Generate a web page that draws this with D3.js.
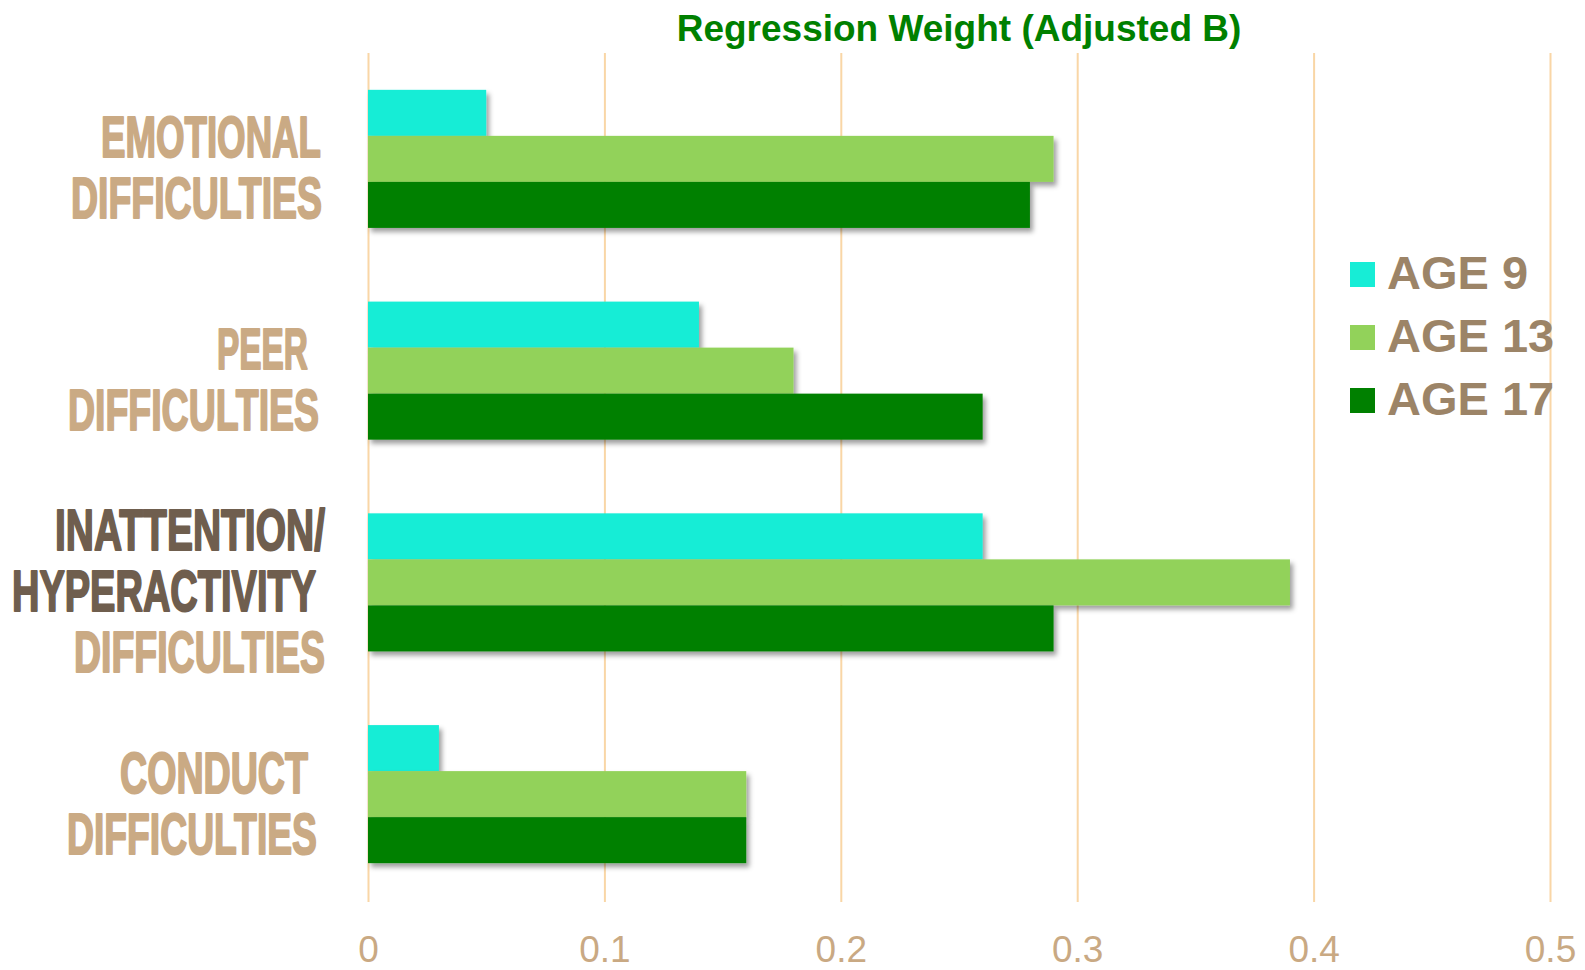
<!DOCTYPE html>
<html>
<head>
<meta charset="utf-8">
<script src="https://cdn.jsdelivr.net/npm/d3@7"></script>
<style>
  html, body { margin: 0; padding: 0; background: #ffffff; }
  svg { display: block; }
</style>
</head>
<body>
<svg id="chart" width="1585" height="970"></svg>
<script>
// Categories (top to bottom) and the lines of text each label is broken into
const categories = ["Emotional", "Peer", "Inattention/Hyperactivity", "Conduct"];
const categoryLines = [
  ["EMOTIONAL", "DIFFICULTIES"],
  ["PEER", "DIFFICULTIES"],
  ["INATTENTION/", "HYPERACTIVITY", "DIFFICULTIES"],
  ["CONDUCT", "DIFFICULTIES"]
];
const series = ["AGE 9", "AGE 13", "AGE 17"];

// Adjusted regression weights per series, one value per category
const age9  = [0.05, 0.14, 0.26, 0.03];
const age13 = [0.29, 0.18, 0.39, 0.16];
const age17 = [0.28, 0.26, 0.29, 0.16];

const tickValues = [0, 0.1, 0.2, 0.3, 0.4, 0.5];
const tickLabels = ["0", "0.1", "0.2", "0.3", "0.4", "0.5"];
const title = "Regression Weight (Adjusted B)";

// ---- layout & style ----
const W = 1585, H = 970;
const plot = { left: 368, right: 1550, top: 53, bottom: 900 };
const colors = ["#17EDD6", "#92D25A", "#008000"];
const gridColor = "#F9D6A6";
const labelTan = "#CAAA84";
const labelDark = "#6F5E4E";
const legendColor = "#9C8467";
const tickColor = "#C9A983";

// Per-line left edge and width for the category labels (condensed display type)
const labelLayout = [
  [[101, 220], [71, 251]],
  [[217, 91], [68, 251]],
  [[55, 270], [12, 304], [74, 251]],
  [[120, 188], [67, 250]]
];
const darkLines = { 2: [0, 1] };

const seriesValues = [age9, age13, age17];
const rows = categories.map((c, i) => ({
  category: c,
  values: series.map((s, j) => ({ series: s, value: seriesValues[j][i], idx: j }))
}));

const svg = d3.select("#chart");

const defs = svg.append("defs");
const shadow = defs.append("filter").attr("id", "barShadow")
  .attr("x", "-5%").attr("y", "-20%").attr("width", "115%").attr("height", "160%");
shadow.append("feDropShadow")
  .attr("dx", 3).attr("dy", 4).attr("stdDeviation", 2.5)
  .attr("flood-color", "#000").attr("flood-opacity", 0.38);

const x = d3.scaleLinear().domain([0, 0.5]).range([plot.left, plot.right]);
const y = d3.scaleBand().domain(categories).range([plot.top, plot.bottom])
  .paddingInner(0.348).paddingOuter(0.174);
const ySub = d3.scaleBand().domain(series).range([0, y.bandwidth()]);

// Vertical gridlines
const gridAxis = d3.axisBottom(x).tickValues(tickValues)
  .tickSize(-(902 - plot.top)).tickFormat("");
const grid = svg.append("g").attr("transform", `translate(0,902)`).call(gridAxis);
grid.select(".domain").remove();
grid.selectAll(".tick line").attr("stroke", gridColor).attr("stroke-width", 2);

// Tick labels
const labelAxis = d3.axisBottom(x).tickValues(tickValues)
  .tickSize(0).tickPadding(0)
  .tickFormat((d, i) => tickLabels[i]);
const axisG = svg.append("g").attr("transform", `translate(0,962)`).call(labelAxis);
axisG.select(".domain").remove();
axisG.selectAll(".tick text")
  .attr("dy", 0).attr("y", 0)
  .attr("font-family", "'Liberation Sans', Arial, sans-serif")
  .attr("font-size", 37).attr("fill", tickColor);

// Bars
const groups = svg.append("g").selectAll("g.cat").data(rows).join("g")
  .attr("class", "cat")
  .attr("transform", d => `translate(0,${y(d.category)})`);
groups.selectAll("rect").data(d => d.values).join("rect")
  .attr("x", x(0))
  .attr("y", d => ySub(d.series))
  .attr("width", d => x(d.value) - x(0))
  .attr("height", ySub.bandwidth())
  .attr("fill", d => colors[d.idx])
  .attr("filter", "url(#barShadow)");

// Category labels
const lineStep = 61;
categories.forEach((c, i) => {
  const lines = categoryLines[i];
  const cy = y(c) + y.bandwidth() / 2;
  const first = cy + 29 - (lines.length - 1) * lineStep / 2;
  lines.forEach((t, k) => {
    const [lx, lw] = labelLayout[i][k];
    const dark = darkLines[i] && darkLines[i].includes(k);
    svg.append("text")
      .attr("x", lx).attr("y", first + k * lineStep)
      .attr("textLength", lw).attr("lengthAdjust", "spacingAndGlyphs")
      .attr("font-family", "'Liberation Sans Narrow', 'Liberation Sans', Arial, sans-serif")
      .attr("font-weight", "bold").attr("font-size", 57)
      .attr("fill", dark ? labelDark : labelTan)
      .attr("stroke", dark ? labelDark : labelTan).attr("stroke-width", 2)
      .attr("stroke-linejoin", "round")
      .text(t);
  });
});

// Title
svg.append("text")
  .attr("x", (plot.left + plot.right) / 2).attr("y", 41)
  .attr("text-anchor", "middle")
  .attr("font-family", "'Liberation Sans', Arial, sans-serif")
  .attr("font-weight", "bold").attr("font-size", 37)
  .attr("fill", "#008000")
  .text(title);

// Legend
const legend = svg.append("g").attr("transform", "translate(1350,262)");
const li = legend.selectAll("g").data(series).join("g")
  .attr("transform", (d, i) => `translate(0,${i * 63})`);
li.append("rect").attr("width", 25).attr("height", 25)
  .attr("fill", (d, i) => colors[i]);
li.append("text").attr("x", 37).attr("y", 27)
  .attr("font-family", "'Liberation Sans', Arial, sans-serif")
  .attr("font-weight", "bold").attr("font-size", 47)
  .attr("fill", legendColor)
  .text(d => d);
</script>
</body>
</html>
